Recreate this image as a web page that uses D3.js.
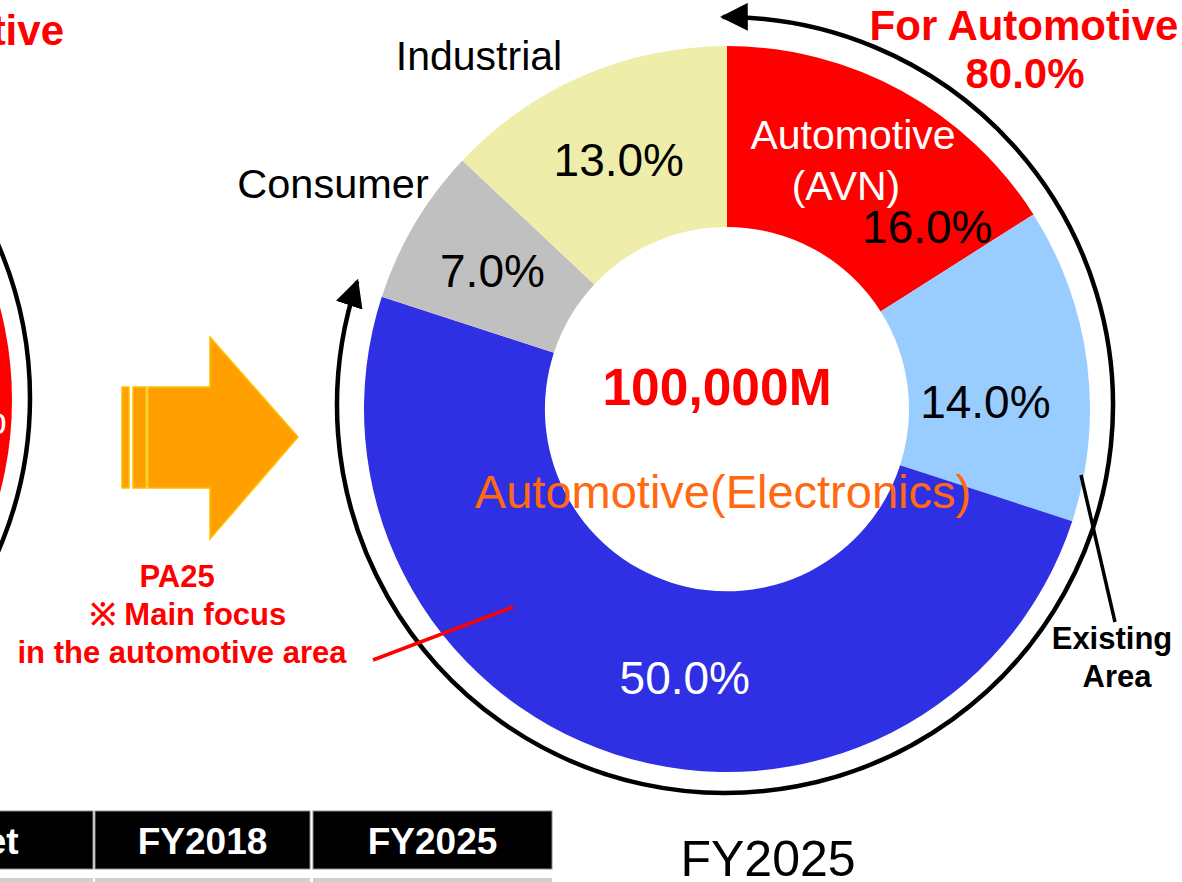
<!DOCTYPE html>
<html>
<head>
<meta charset="utf-8">
<script src="https://cdn.jsdelivr.net/npm/d3@7"></script>
<style>
  html, body { margin: 0; padding: 0; background: #ffffff; }
  svg { display: block; }
  text { font-family: "Liberation Sans", Arial, Helvetica, sans-serif; }
</style>
</head>
<body>
<svg id="chart" width="1182" height="882"></svg>
<script>
// ---------------- data ----------------
const categories = ["Automotive (AVN)", "Automotive (Existing)", "Automotive (Electronics)", "Consumer", "Industrial"];
const shares = [16.0, 14.0, 50.0, 7.0, 13.0];
const automotiveFlags = [true, true, true, false, false];
const totalLabel = "100,000M";
const yearLabel = "FY2025";
const tableHeaders = ["Market", "FY2018", "FY2025"];

// ---------------- styling / layout ----------------
const colors = ["#ff0000", "#99ccff", "#2f2fe3", "#c0c0c0", "#eeeeaa"];
const labelColors = ["#000000", "#000000", "#ffffff", "#000000", "#000000"];
const labelOffsets = [[69, 56], [-12, 27], [42, 9], [0, 0], [0, 1]];
const W = 1182, H = 882;
const cx = 727, cy = 409, outerR = 363, innerR = 182;
const ringCx = 725, ringCy = 405, ringR = 388;

const svg = d3.select("#chart");
const fmt = d3.format(".1f");

const data = categories.map((c, i) => ({ name: c, value: shares[i], auto: automotiveFlags[i], i }));

const pie = d3.pie().value(d => d.value).sort(null).startAngle(0).endAngle(2 * Math.PI);
const arcs = pie(data);
const arc = d3.arc().innerRadius(innerR).outerRadius(outerR);
const labelArc = d3.arc().innerRadius(innerR).outerRadius(outerR);

// arrowhead markers
const defs = svg.append("defs");
defs.append("marker")
  .attr("id", "ah")
  .attr("viewBox", "0 0 10 10")
  .attr("refX", 9).attr("refY", 5)
  .attr("markerWidth", 6.2).attr("markerHeight", 6.2)
  .attr("markerUnits", "strokeWidth")
  .attr("orient", "auto-start-reverse")
  .append("path").attr("d", "M0,0 L10,5 L0,10 Z").attr("fill", "#000");

// ---------- left (previous year) partial chart ----------
const leftG = svg.append("g");
leftG.append("circle").attr("cx", -352).attr("cy", 400).attr("r", 364).attr("fill", "#ff0000");
leftG.append("circle").attr("cx", -355).attr("cy", 398).attr("r", 385)
  .attr("fill", "none").attr("stroke", "#000").attr("stroke-width", 4.5);
leftG.append("text").attr("x", 7).attr("y", 434).attr("text-anchor", "end")
  .attr("font-size", 46).attr("fill", "#fff").text("0%");
svg.append("text").attr("x", 64).attr("y", 45).attr("text-anchor", "end")
  .attr("font-size", 42).attr("font-weight", "bold").attr("fill", "#ff0000").text("For Automotive");

// ---------- orange transition arrow ----------
const arrowG = svg.append("g").attr("fill", "#ffa000").attr("stroke", "#ffc000").attr("stroke-width", 1.5);
arrowG.append("rect").attr("x", 122).attr("y", 387).attr("width", 7).attr("height", 101);
arrowG.append("rect").attr("x", 133).attr("y", 387).attr("width", 13).attr("height", 101);
arrowG.append("path").attr("d", "M148,387 L210,387 L210,337 L298,437 L210,539 L210,488 L148,488 Z");

const noteG = svg.append("g").attr("fill", "#ff0000").attr("font-weight", "bold")
  .attr("font-size", 31).attr("text-anchor", "middle");
noteG.append("text").attr("x", 177).attr("y", 587).text("PA25");
noteG.append("text").attr("x", 188).attr("y", 625).text("※ Main focus");
noteG.append("text").attr("x", 182).attr("y", 663).text("in the automotive area");

// ---------- donut ----------
const g = svg.append("g").attr("transform", `translate(${cx},${cy})`);
g.selectAll("path.slice").data(arcs).join("path")
  .attr("class", "slice")
  .attr("d", arc)
  .attr("fill", d => colors[d.data.i]);

g.selectAll("text.pct").data(arcs).join("text")
  .attr("class", "pct")
  .attr("x", d => labelArc.centroid(d)[0] + labelOffsets[d.data.i][0])
  .attr("y", d => labelArc.centroid(d)[1] + labelOffsets[d.data.i][1])
  .attr("dy", "0.36em")
  .attr("text-anchor", "middle")
  .attr("font-size", 46)
  .attr("fill", d => labelColors[d.data.i])
  .text(d => fmt(d.data.value) + "%");

// ---------- automotive ring arrow ----------
const autoArcs = arcs.filter(d => d.data.auto);
const autoStart = d3.min(autoArcs, d => d.startAngle);
const autoEnd = d3.max(autoArcs, d => d.endAngle);
const autoShare = d3.sum(autoArcs, d => d.data.value);
const ringPath = d3.path();
const a0 = autoEnd + 0.01 - Math.PI / 2, a1 = autoStart - 0.006 - Math.PI / 2;
ringPath.moveTo(ringCx + ringR * Math.cos(a0), ringCy + ringR * Math.sin(a0));
ringPath.arc(ringCx, ringCy, ringR, a0, a1, true);
svg.append("path").attr("d", ringPath.toString())
  .attr("fill", "none").attr("stroke", "#000").attr("stroke-width", 4.5)
  .attr("marker-start", "url(#ah)").attr("marker-end", "url(#ah)");

// ---------- slice / category labels ----------
svg.append("text").attr("x", 479).attr("y", 70).attr("text-anchor", "middle")
  .attr("font-size", 41).attr("fill", "#000").text(categories[4]);
svg.append("text").attr("x", 333).attr("y", 198).attr("text-anchor", "middle")
  .attr("font-size", 41.5).attr("fill", "#000").text(categories[3]);
const avnParts = categories[0].split(" ");
svg.append("text").attr("x", 853).attr("y", 149).attr("text-anchor", "middle")
  .attr("font-size", 41).attr("fill", "#fff").text(avnParts[0]);
svg.append("text").attr("x", 846).attr("y", 200).attr("text-anchor", "middle")
  .attr("font-size", 41).attr("fill", "#fff").text(avnParts[1]);
svg.append("text").attr("x", 723).attr("y", 508).attr("text-anchor", "middle")
  .attr("font-size", 47).attr("fill", "#ff6a10").text(categories[2].replace(" ", ""));
svg.append("text").attr("x", 717).attr("y", 405).attr("text-anchor", "middle")
  .attr("font-size", 51.5).attr("font-weight", "bold").attr("fill", "#ff0000").text(totalLabel);

// For Automotive headline
svg.append("text").attr("x", 1024).attr("y", 40).attr("text-anchor", "middle")
  .attr("font-size", 42).attr("font-weight", "bold").attr("fill", "#ff0000").text("For Automotive");
svg.append("text").attr("x", 1025).attr("y", 88).attr("text-anchor", "middle")
  .attr("font-size", 42).attr("font-weight", "bold").attr("fill", "#ff0000").text(fmt(autoShare) + "%");

// Existing Area callout
svg.append("line").attr("x1", 1081).attr("y1", 475).attr("x2", 1115).attr("y2", 622)
  .attr("stroke", "#000").attr("stroke-width", 3.5);
svg.append("text").attr("x", 1112).attr("y", 649).attr("text-anchor", "middle")
  .attr("font-size", 31).attr("font-weight", "bold").attr("fill", "#000").text("Existing");
svg.append("text").attr("x", 1117).attr("y", 687).attr("text-anchor", "middle")
  .attr("font-size", 31).attr("font-weight", "bold").attr("fill", "#000").text("Area");

// red pointer line
svg.append("line").attr("x1", 373).attr("y1", 660).attr("x2", 513).attr("y2", 607)
  .attr("stroke", "#ff0000").attr("stroke-width", 3.5);

// year label
svg.append("text").attr("x", 768).attr("y", 876).attr("text-anchor", "middle")
  .attr("font-size", 50).attr("fill", "#000").text(yearLabel);

// ---------- table header ----------
const cellX = [-120, 95, 313];
const cellW = [213, 215, 239];
const textX = [-41, 202.5, 432.5];
const tbl = svg.append("g");
tableHeaders.forEach((h, i) => {
  tbl.append("rect").attr("x", cellX[i]).attr("y", 811).attr("width", cellW[i]).attr("height", 58)
    .attr("fill", "#000").attr("stroke", "#8c8c8c").attr("stroke-width", 1);
  tbl.append("rect").attr("x", cellX[i]).attr("y", 878).attr("width", cellW[i]).attr("height", 20)
    .attr("fill", "#d0d0d0");
  tbl.append("text").attr("x", textX[i]).attr("y", 854).attr("text-anchor", "middle")
    .attr("font-size", 37).attr("font-weight", "bold").attr("fill", "#fff").text(h);
});
</script>
</body>
</html>
